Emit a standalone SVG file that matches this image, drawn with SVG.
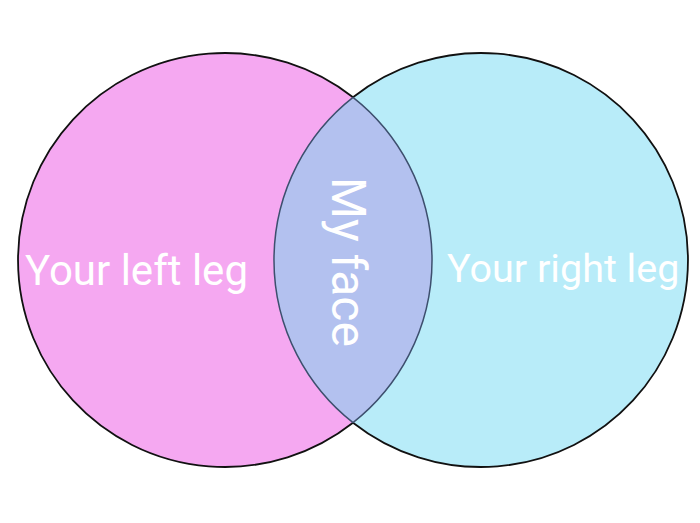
<svg xmlns="http://www.w3.org/2000/svg" width="700" height="523" viewBox="0 0 700 523">
<style>
.lbl{font-family:Roboto,"Liberation Sans",sans-serif;fill:#ffffff}
.edge{fill:none;stroke:#111111;stroke-width:1.8}
.inner{fill:none;stroke:#3d4f6e;stroke-width:1.5}
</style>
<rect width="700" height="523" fill="#ffffff"/>
<g id="left-leg">
<circle cx="225" cy="260" r="207" fill="#f5a8f1"/>
</g>
<g id="right-leg">
<circle cx="481" cy="260" r="207" fill="#b8ecf9"/>
</g>
<g id="my-face">
<path d="M353 97.3 A207 207 0 0 1 353 422.7 A207 207 0 0 1 353 97.3 Z" fill="#b3c1ef"/>
</g>
<g id="outlines">
<path class="edge" d="M353 97.3 A207 207 0 1 0 353 422.7"/>
<path class="edge" d="M353 97.3 A207 207 0 1 1 353 422.7"/>
<path class="inner" d="M353 97.3 A207 207 0 0 1 353 422.7"/>
<path class="inner" d="M353 422.7 A207 207 0 0 1 353 97.3"/>
</g>
<text class="lbl" x="25" y="285" font-size="42">Your left leg</text>
<text class="lbl" x="447" y="282" font-size="39.5">Your right leg</text>
<text class="lbl" transform="translate(332,177) rotate(90)" x="0" y="0" font-size="48">My face</text>
</svg>
